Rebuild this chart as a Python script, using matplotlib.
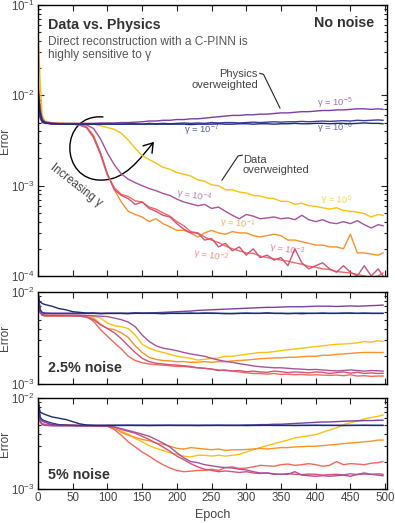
import matplotlib
matplotlib.use("Agg")
import matplotlib.pyplot as plt
import numpy as np
from matplotlib.path import Path
from matplotlib.patches import FancyArrowPatch
from matplotlib.ticker import LogLocator, NullFormatter

plt.rcParams['font.family'] = ['Liberation Sans', 'DejaVu Sans']
plt.rcParams['mathtext.fontset'] = 'custom'
plt.rcParams['mathtext.rm'] = 'Liberation Sans'
plt.rcParams['mathtext.it'] = 'Liberation Sans:italic'
plt.rcParams['mathtext.bf'] = 'Liberation Sans:bold'

# epochs at which the curves were read
epoch = [0, 3, 6, 10,
         20, 30, 40, 50, 60, 70, 80, 90, 100, 110,
         120, 130, 140, 150, 160, 170, 180, 190, 200, 210,
         220, 230, 240, 250, 260, 270, 280, 290, 300, 310,
         320, 330, 340, 350, 360, 370, 380, 390, 400, 410,
         420, 430, 440, 450, 460, 470, 480, 490, 497]

gammas = ["0", "-1", "-2", "-3", "-4", "-5", "-6", "-7"]
colors = ["#fcc10f", "#f8922a", "#f2685c", "#d2537a", "#a8529b", "#7c3f9f", "#40399c", "#1d2c78"]

# ---- no noise (error in units of 1e-3) ----
nn_g0 = [50, 15, 6.0, 5.2,
         5.0, 4.95, 4.9, 4.9, 4.85, 4.8, 4.8, 4.6, 4.4, 4.2,
         3.8, 3.2, 2.6, 2.15, 1.95, 1.78, 1.6, 1.52, 1.4, 1.34,
         1.28, 1.16, 1.12, 1.02, 1.0, 0.9, 0.9, 0.85, 0.83, 0.78,
         0.77, 0.73, 0.72, 0.67, 0.67, 0.62, 0.64, 0.6, 0.59, 0.57,
         0.55, 0.57, 0.53, 0.52, 0.51, 0.49, 0.45, 0.48, 0.47]
nn_gm1 = [15, 8.0, 5.5, 5.0,
          4.8, 4.8, 4.8, 4.8, 4.75, 4.5, 3.6, 2.3, 1.35, 0.9,
          0.66, 0.52, 0.48, 0.45, 0.4, 0.43, 0.38, 0.35, 0.32, 0.32,
          0.3, 0.27, 0.3, 0.32, 0.3, 0.29, 0.31, 0.3, 0.3, 0.28,
          0.27, 0.28, 0.29, 0.28, 0.25, 0.25, 0.24, 0.23, 0.22, 0.22,
          0.21, 0.21, 0.2, 0.29, 0.18, 0.18, 0.175, 0.17, 0.18]
nn_gm2 = [10, 7.0, 5.3, 5.0,
          4.8, 4.8, 4.8, 4.8, 4.7, 4.4, 3.4, 2.2, 1.3, 0.95,
          0.8, 0.76, 0.68, 0.66, 0.58, 0.55, 0.5, 0.46, 0.4, 0.36,
          0.31, 0.3, 0.27, 0.25, 0.235, 0.215, 0.2, 0.19, 0.18, 0.178,
          0.166, 0.16, 0.155, 0.15, 0.146, 0.14, 0.135, 0.128, 0.125, 0.12,
          0.118, 0.112, 0.11, 0.108, 0.104, 0.1, 0.097, 0.1, 0.108]
nn_gm3 = [8.0, 6.0, 5.2, 5.0,
          4.8, 4.8, 4.8, 4.8, 4.7, 4.4, 3.5, 2.3, 1.35, 0.9,
          0.78, 0.72, 0.62, 0.66, 0.56, 0.52, 0.47, 0.45, 0.38, 0.33,
          0.3, 0.3, 0.25, 0.26, 0.21, 0.23, 0.19, 0.21, 0.17, 0.2,
          0.16, 0.17, 0.15, 0.16, 0.13, 0.2, 0.14, 0.12, 0.13, 0.14,
          0.12, 0.11, 0.13, 0.11, 0.1, 0.13, 0.1, 0.12, 0.1]
nn_gm4 = [12, 7.0, 5.5, 5.1,
          4.9, 4.85, 4.85, 4.85, 4.8, 4.7, 4.3, 3.3, 2.3, 1.7,
          1.35, 1.18, 1.08, 1.0, 0.93, 0.88, 0.82, 0.78, 0.71, 0.66,
          0.63, 0.6, 0.62, 0.56, 0.58, 0.52, 0.47, 0.43, 0.48, 0.46,
          0.43, 0.44, 0.45, 0.43, 0.44, 0.42, 0.47, 0.42, 0.4, 0.42,
          0.39, 0.38, 0.4, 0.38, 0.41, 0.37, 0.34, 0.37, 0.36]
nn_gm5 = [7.0, 5.6, 5.1, 5.0,
          4.95, 4.9, 4.9, 4.9, 4.9, 4.9, 4.9, 4.95, 4.95, 4.95,
          5.0, 5.0, 5.05, 5.1, 5.2, 5.2, 5.3, 5.3, 5.4, 5.4,
          5.5, 5.5, 5.6, 5.7, 5.8, 5.9, 6.0, 6.0, 6.1, 6.1,
          6.2, 6.2, 6.3, 6.4, 6.4, 6.5, 6.6, 6.6, 6.7, 6.8,
          6.8, 6.9, 6.9, 7.0, 7.1, 7.1, 7.0, 7.1, 7.0]
nn_gm6 = [9.0, 6.0, 5.0, 4.9,
          4.85, 4.85, 4.8, 4.85, 4.8, 4.85, 4.8, 4.8, 4.85, 4.8,
          4.8, 4.85, 4.85, 4.8, 4.9, 4.85, 4.9, 4.85, 4.9, 4.95,
          4.9, 4.95, 4.9, 5.0, 4.95, 5.0, 5.0, 4.95, 5.0, 5.05,
          5.0, 5.05, 5.1, 5.05, 5.1, 5.1, 5.15, 5.1, 5.15, 5.2,
          5.15, 5.2, 5.25, 5.2, 5.3, 5.25, 5.3, 5.35, 5.3]
nn_gm7 = [12, 6.5, 5.3, 5.0,
          4.85, 4.8, 4.8, 4.8, 4.8, 4.8, 4.8, 4.8, 4.8, 4.8,
          4.8, 4.8, 4.8, 4.8, 4.8, 4.8, 4.8, 4.8, 4.8, 4.8,
          4.75, 4.8, 4.8, 4.8, 4.85, 4.8, 4.8, 4.85, 4.85, 4.8,
          4.85, 4.85, 4.8, 4.85, 4.85, 4.9, 4.85, 4.85, 4.9, 4.9,
          4.85, 4.9, 4.9, 4.85, 4.9, 4.95, 4.9, 4.9, 4.85]

# ---- 2.5% noise ----
n25_g0 = [10, 6.0, 5.7, 5.6,
          5.6, 5.6, 5.55, 5.55, 5.5, 5.5, 5.45, 5.2, 4.6, 4.3,
          4.2, 4.0, 3.4, 2.7, 2.45, 2.3, 2.2, 2.1, 2.0, 1.95,
          1.9, 1.82, 1.85, 1.9, 1.92, 2.0, 2.0, 2.05, 2.1, 2.15,
          2.2, 2.2, 2.25, 2.3, 2.35, 2.4, 2.45, 2.5, 2.55, 2.6,
          2.65, 2.7, 2.72, 2.75, 2.8, 2.9, 2.85, 2.95, 2.9]
n25_gm1 = [10, 6.0, 5.6, 5.5,
           5.5, 5.5, 5.5, 5.5, 5.45, 5.4, 5.2, 4.5, 4.0, 3.9,
           3.6, 3.2, 2.6, 2.2, 1.95, 1.85, 1.8, 1.78, 1.75, 1.75,
           1.72, 1.72, 1.75, 1.72, 1.75, 1.75, 1.78, 1.8, 1.82, 1.85,
           1.88, 1.9, 1.92, 1.92, 1.95, 1.95, 1.98, 2.0, 2.0, 2.05,
           2.05, 2.1, 2.12, 2.15, 2.18, 2.2, 2.2, 2.2, 2.2]
n25_gm2 = [10, 6.0, 5.6, 5.5,
           5.5, 5.5, 5.5, 5.5, 5.45, 5.4, 4.8, 3.9, 3.3, 2.8,
           2.4, 2.0, 1.8, 1.7, 1.65, 1.62, 1.6, 1.58, 1.55, 1.55,
           1.52, 1.5, 1.48, 1.45, 1.42, 1.4, 1.38, 1.35, 1.32, 1.3,
           1.3, 1.28, 1.3, 1.27, 1.28, 1.26, 1.27, 1.25, 1.26, 1.25,
           1.24, 1.25, 1.23, 1.26, 1.22, 1.23, 1.21, 1.22, 1.22]
n25_gm3 = [10, 6.0, 5.6, 5.5,
           5.5, 5.5, 5.5, 5.5, 5.45, 5.3, 5.0, 4.4, 4.0, 3.6,
           3.1, 2.6, 2.2, 1.9, 1.75, 1.68, 1.65, 1.62, 1.6, 1.58,
           1.55, 1.5, 1.48, 1.45, 1.4, 1.42, 1.38, 1.4, 1.36, 1.38,
           1.35, 1.34, 1.38, 1.36, 1.33, 1.35, 1.34, 1.32, 1.35, 1.34,
           1.3, 1.33, 1.35, 1.31, 1.34, 1.3, 1.32, 1.3, 1.31]
n25_gm4 = [10, 6.0, 5.7, 5.6,
           5.6, 5.6, 5.6, 5.6, 5.6, 5.55, 5.5, 5.45, 5.4, 5.2,
           5.0, 4.7, 4.2, 3.4, 2.9, 2.6, 2.45, 2.38, 2.3, 2.2,
           2.12, 2.06, 2.0, 1.9, 1.82, 1.76, 1.72, 1.66, 1.62, 1.57,
           1.54, 1.52, 1.5, 1.5, 1.48, 1.46, 1.45, 1.43, 1.44, 1.42,
           1.4, 1.39, 1.4, 1.42, 1.4, 1.38, 1.4, 1.39, 1.38]
n25_gm5 = [10, 6.2, 5.9, 5.85,
           5.85, 5.85, 5.85, 5.85, 5.85, 5.85, 5.85, 5.85, 5.85, 5.85,
           5.85, 5.85, 5.9, 5.9, 5.9, 5.95, 6.0, 6.05, 6.1, 6.15,
           6.2, 6.3, 6.35, 6.4, 6.45, 6.5, 6.55, 6.6, 6.65, 6.7,
           6.75, 6.8, 6.8, 6.85, 6.9, 6.9, 6.9, 6.95, 7.0, 7.0,
           7.0, 6.95, 7.0, 7.05, 7.0, 7.05, 7.1, 7.15, 7.2]
n25_gm6 = [10, 6.5, 6.0, 5.9,
           5.85, 5.85, 5.85, 5.85, 5.85, 5.85, 5.85, 5.8, 5.85, 5.85,
           5.85, 5.8, 5.85, 5.85, 5.9, 5.85, 5.85, 5.9, 5.85, 5.85,
           5.9, 5.85, 5.85, 5.9, 5.85, 5.8, 5.85, 5.85, 5.9, 5.85,
           5.85, 5.9, 5.85, 5.85, 5.8, 5.85, 5.9, 5.85, 5.85, 5.9,
           5.85, 5.85, 5.9, 5.85, 5.85, 5.9, 5.85, 5.85, 5.85]
n25_gm7 = [8.5, 7.8, 7.5, 7.3,
           7.0, 6.6, 6.4, 6.1, 6.0, 5.9, 5.9, 5.85, 5.85, 5.85,
           5.85, 5.85, 5.9, 5.85, 5.85, 5.85, 5.8, 5.85, 5.85, 5.85,
           5.85, 5.85, 5.9, 5.85, 5.85, 5.85, 5.8, 5.85, 5.85, 5.85,
           5.85, 5.9, 5.85, 5.85, 5.85, 5.85, 5.8, 5.85, 5.85, 5.85,
           5.85, 5.85, 5.85, 5.9, 5.85, 5.85, 5.85, 5.85, 5.85]

# ---- 5% noise ----
n5_g0 = [9.5, 5.5, 5.1, 5.0,
         5.0, 5.0, 5.0, 5.0, 4.95, 4.95, 4.95, 4.95, 4.9, 4.6,
         4.3, 4.0, 3.6, 3.3, 3.0, 2.8, 2.65, 2.5, 2.4, 2.3,
         2.25, 2.35, 2.35, 2.3, 2.35, 2.3, 2.35, 2.4, 2.55, 2.7,
         2.85, 3.0, 3.15, 3.3, 3.45, 3.65, 3.75, 3.85, 3.95, 4.2,
         4.45, 4.7, 5.1, 5.35, 5.6, 5.9, 6.1, 6.3, 6.5]
n5_gm1 = [9.0, 5.6, 5.2, 5.1,
          5.0, 5.0, 5.0, 5.0, 4.95, 4.95, 4.95, 4.95, 4.9, 4.7,
          4.2, 3.9, 3.7, 3.5, 3.4, 3.2, 3.1, 2.95, 2.8, 2.75,
          2.85, 2.8, 2.75, 2.7, 2.75, 2.65, 2.7, 2.7, 2.72, 2.75,
          2.8, 2.75, 2.8, 2.85, 2.85, 2.9, 2.92, 2.95, 2.95, 3.0,
          3.05, 3.1, 3.15, 3.2, 3.25, 3.3, 3.35, 3.45, 3.45]
n5_gm2 = [9.0, 5.6, 5.2, 5.1,
          5.0, 5.0, 5.0, 5.0, 4.95, 4.95, 4.95, 4.95, 4.9, 4.5,
          3.9, 3.3, 2.9, 2.55, 2.3, 2.05, 1.85, 1.7, 1.6, 1.55,
          1.57, 1.6, 1.6, 1.65, 1.6, 1.72, 1.75, 1.68, 1.7, 1.75,
          1.82, 1.8, 1.78, 1.85, 1.88, 1.82, 1.85, 1.9, 1.85, 1.78,
          1.82, 2.0, 1.85, 1.9, 1.88, 1.85, 1.92, 1.95, 2.0]
n5_gm3 = [9.0, 5.6, 5.2, 5.1,
          5.0, 5.0, 5.0, 5.0, 4.95, 4.95, 4.95, 4.95, 4.9, 4.8,
          4.5, 4.3, 4.1, 3.8, 3.5, 3.2, 2.9, 2.6, 2.3, 2.1,
          1.9, 1.75, 1.65, 1.6, 1.55, 1.58, 1.55, 1.52, 1.55, 1.5,
          1.48, 1.5, 1.47, 1.45, 1.48, 1.45, 1.44, 1.46, 1.45, 1.42,
          1.44, 1.45, 1.43, 1.47, 1.44, 1.46, 1.45, 1.47, 1.45]
n5_gm4 = [8.0, 5.5, 5.1, 5.0,
          4.95, 4.95, 4.95, 4.95, 4.95, 4.95, 4.95, 4.95, 4.95, 4.8,
          4.6, 4.4, 4.2, 4.0, 3.8, 3.5, 3.2, 2.9, 2.5, 2.2,
          2.0, 1.95, 1.85, 1.8, 1.75, 1.72, 1.7, 1.65, 1.62, 1.55,
          1.5, 1.5, 1.45, 1.45, 1.45, 1.55, 1.42, 1.4, 1.38, 1.4,
          1.38, 1.4, 1.42, 1.38, 1.45, 1.5, 1.45, 1.42, 1.4]
n5_gm5 = [9.0, 6.0, 5.6, 5.4,
          5.1, 5.0, 5.0, 5.0, 5.0, 5.0, 5.0, 5.0, 5.0, 5.0,
          5.0, 5.0, 5.0, 5.0, 5.0, 5.0, 5.0, 5.0, 5.0, 5.0,
          5.0, 5.0, 5.0, 5.0, 5.0, 5.0, 5.0, 5.0, 5.05, 5.05,
          5.1, 5.1, 5.15, 5.15, 5.2, 5.25, 5.3, 5.35, 5.4, 5.45,
          5.45, 5.5, 5.55, 5.6, 5.6, 5.65, 5.65, 5.7, 5.7]
n5_gm6 = [10, 6.2, 5.8, 5.6,
          5.3, 5.1, 5.05, 5.0, 5.0, 5.0, 5.0, 4.98, 5.0, 5.0,
          5.0, 5.02, 5.0, 5.0, 4.98, 5.0, 5.0, 5.02, 5.0, 5.0,
          5.0, 4.98, 5.0, 5.0, 5.02, 5.0, 5.0, 5.0, 4.98, 5.0,
          5.0, 5.02, 5.0, 5.0, 5.0, 4.98, 5.0, 5.0, 5.02, 5.0,
          5.0, 5.0, 4.98, 5.0, 5.0, 5.02, 5.0, 5.0, 5.0]
n5_gm7 = [9.5, 7.0, 6.8, 6.6,
          6.2, 6.0, 5.8, 5.5, 5.2, 5.05, 5.0, 5.0, 5.0, 5.0,
          5.0, 5.0, 5.0, 5.0, 5.0, 5.0, 5.0, 5.0, 5.0, 5.0,
          5.0, 5.0, 5.0, 5.0, 5.0, 5.0, 5.0, 5.0, 5.0, 5.0,
          5.0, 5.0, 5.0, 5.0, 5.0, 5.0, 5.0, 5.0, 5.0, 5.0,
          5.0, 5.0, 5.0, 5.0, 5.0, 5.0, 5.0, 5.0, 5.0]

panels = [
    [nn_g0, nn_gm1, nn_gm2, nn_gm3, nn_gm4, nn_gm5, nn_gm6, nn_gm7],
    [n25_g0, n25_gm1, n25_gm2, n25_gm3, n25_gm4, n25_gm5, n25_gm6, n25_gm7],
    [n5_g0, n5_gm1, n5_gm2, n5_gm3, n5_gm4, n5_gm5, n5_gm6, n5_gm7],
]

fig = plt.figure(figsize=(3.95, 5.23), dpi=100)
ax1 = fig.add_axes([0.0962, 0.4723, 0.884, 0.518])
ax2 = fig.add_axes([0.0962, 0.2658, 0.884, 0.176])
ax3 = fig.add_axes([0.0962, 0.065, 0.884, 0.174])
axes = [ax1, ax2, ax3]

for ax, series in zip(axes, panels):
    for vals, c in zip(series, colors):
        ax.plot(epoch, np.array(vals) * 1e-3, color=c, lw=1.0)
    ax.set_yscale('log')
    ax.set_xlim(0, 503)
    ax.set_xticks(range(0, 501, 50))
    ax.yaxis.set_minor_locator(LogLocator(base=10, subs=np.arange(2, 10)))
    ax.yaxis.set_minor_formatter(NullFormatter())
    ax.tick_params(which='both', direction='in', top=True, right=True, labelsize=8.3,
                   width=0.8, colors='#222222', labelcolor='#444444', pad=2.5)
    ax.tick_params(which='major', length=4)
    ax.tick_params(which='minor', length=2)
    for s in ax.spines.values():
        s.set_linewidth(1.0)
    ax.set_ylabel('Error', fontsize=8.5, color='#444444')
    ax.yaxis.set_label_coords(-0.078, 0.5)

ax1.set_ylim(1e-4, 1e-1)
ax2.set_ylim(1e-3, 1e-2)
ax3.set_ylim(1e-3, 1e-2)
ax1.set_xticklabels([])
ax2.set_xticklabels([])
ax3.set_xlabel('Epoch', fontsize=9, color='#444444', labelpad=3)

# text in top panel
ax1.text(0.03, 0.925, 'Data vs. Physics', transform=ax1.transAxes, fontsize=10.3,
         fontweight='bold', color='#333333', va='center')
ax1.text(0.03, 0.885, 'Direct reconstruction with a C-PINN is\nhighly sensitive to γ',
         transform=ax1.transAxes, fontsize=8.6, color='#555555', va='top', linespacing=1.1)
ax1.text(0.963, 0.935, 'No noise', transform=ax1.transAxes, fontsize=10.3,
         fontweight='bold', color='#333333', ha='right', va='center')
ax2.text(0.03, 0.17, '2.5% noise', transform=ax2.transAxes, fontsize=10.3,
         fontweight='bold', color='#333333', va='center')
ax3.text(0.03, 0.155, '5% noise', transform=ax3.transAxes, fontsize=10.3,
         fontweight='bold', color='#333333', va='center')

ax1.text(0.63, 0.725, 'Physics\noverweighted', transform=ax1.transAxes, fontsize=8,
         color='#444444', ha='right', va='center', linespacing=1.05)
ax1.plot([0.635, 0.646, 0.693], [0.748, 0.744, 0.62], transform=ax1.transAxes,
         color='#222222', lw=0.8)
ax1.text(0.587, 0.41, 'Data\noverweighted', transform=ax1.transAxes, fontsize=8,
         color='#444444', ha='left', va='center', linespacing=1.05)
ax1.plot([0.585, 0.573, 0.527], [0.446, 0.443, 0.354], transform=ax1.transAxes,
         color='#222222', lw=0.8)

ax1.text(0.11, 0.335, 'Increasing γ', transform=ax1.transAxes, fontsize=8.3,
         color='#444444', rotation=-38, ha='center', va='center', rotation_mode='anchor')

verts = [(0.186, 0.587), (0.06, 0.60), (0.06, 0.35), (0.183, 0.354),
         (0.25, 0.355), (0.29, 0.43), (0.332, 0.495)]
codes = [Path.MOVETO] + [Path.CURVE4] * 6
arrow = FancyArrowPatch(path=Path(verts, codes), arrowstyle='->,head_length=0.45,head_width=0.3',
                        mutation_scale=14, lw=1.0, color='black', transform=ax1.transAxes)
ax1.add_patch(arrow)

# gamma labels: (epoch, error, rotation)
lab_pos = {"0": (430, 6.9e-4, -4), "-1": (288, 3.7e-4, -6), "-2": (249, 1.63e-4, -10),
           "-3": (358, 1.9e-4, -10), "-4": (225, 7.5e-4, -10), "-5": (428, 8.2e-3, 0),
           "-6": (428, 4.35e-3, 0), "-7": (236, 4.1e-3, 0)}
for g, c in zip(gammas, colors):
    x, y, r = lab_pos[g]
    ax1.text(x, y, 'γ = 10$^{%s}$' % g.replace('-', '−'), color=c, alpha=0.75, fontsize=6.8,
             rotation=r, ha='center', va='center')

fig.savefig('out.png', dpi=100)
